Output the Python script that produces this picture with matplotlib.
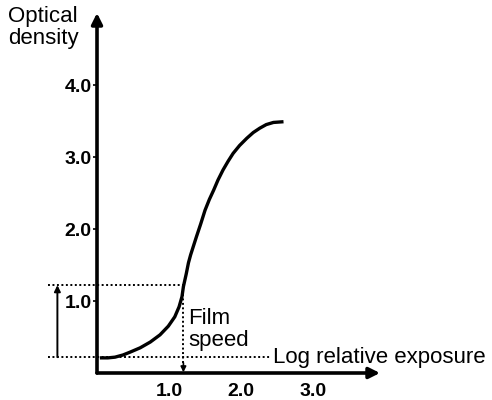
import matplotlib.pyplot as plt
from matplotlib.ticker import FormatStrFormatter

plt.rcParams['font.family'] = ['Liberation Sans', 'DejaVu Sans']

# characteristic curve
log_exposure = [0.04, 0.15, 0.25, 0.36, 0.46, 0.60, 0.74, 0.875, 0.99, 1.08,
                1.14, 1.18, 1.20, 1.24, 1.27, 1.30, 1.38, 1.44, 1.50, 1.56,
                1.62, 1.68, 1.75, 1.82, 1.89, 1.98, 2.08, 2.17, 2.26, 2.35,
                2.45, 2.59]
density = [0.21, 0.21, 0.22, 0.25, 0.29, 0.35, 0.43, 0.53, 0.65, 0.78,
           0.92, 1.06, 1.20, 1.38, 1.53, 1.64, 1.89, 2.07, 2.26, 2.41,
           2.54, 2.68, 2.82, 2.94, 3.05, 3.16, 3.26, 3.34, 3.40, 3.45,
           3.48, 3.49]

x_ticks = [1.0, 2.0, 3.0]
y_ticks = [1.0, 2.0, 3.0, 4.0]

fog_level = 0.22
speed_density = 1.22
speed_exposure = 1.2

fig = plt.figure(figsize=(4.92, 4.0), dpi=100)
ax = fig.add_axes([97 / 492, 27 / 400, 283 / 492, 360 / 400])
ax.set_xlim(0, 3.93)
ax.set_ylim(0, 5.0)
for s in ax.spines.values():
    s.set_visible(False)

# axes with arrow heads
arrow_kw = dict(arrowstyle='-|>', lw=2.6, color='black', mutation_scale=16,
                shrinkA=0, shrinkB=0)
ax.annotate('', xy=(0, 5.0), xytext=(0, 0), arrowprops=arrow_kw, annotation_clip=False)
ax.annotate('', xy=(3.93, 0), xytext=(0, 0), arrowprops=arrow_kw, annotation_clip=False)

ax.set_xticks(x_ticks)
ax.set_yticks(y_ticks)
ax.xaxis.set_major_formatter(FormatStrFormatter('%.1f'))
ax.yaxis.set_major_formatter(FormatStrFormatter('%.1f'))
ax.tick_params(axis='x', length=0, pad=7, labelsize=14)
ax.tick_params(axis='y', direction='out', length=3, width=1.2, pad=1, labelsize=14)
for lab in ax.get_xticklabels() + ax.get_yticklabels():
    lab.set_fontweight('bold')

ax.plot(log_exposure, density, color='black', lw=2.4, solid_joinstyle='round',
        solid_capstyle='butt', clip_on=False)

dot = (0, (1.0, 1.3))
ax.plot([-0.68, speed_exposure], [speed_density, speed_density], color='black',
        lw=1.4, linestyle=dot, clip_on=False)
ax.plot([-0.68, 2.40], [fog_level, fog_level], color='black',
        lw=1.4, linestyle=dot, clip_on=False)
ax.plot([speed_exposure, speed_exposure], [speed_density, 0.12], color='black',
        lw=1.4, linestyle=dot, clip_on=False)
ax.annotate('', xy=(speed_exposure, 0.01), xytext=(speed_exposure, 0.14),
            arrowprops=dict(arrowstyle='-|>', lw=1.2, color='black', mutation_scale=8,
                            shrinkA=0, shrinkB=0), annotation_clip=False)

# density range arrow
ax.annotate('', xy=(-0.55, speed_density), xytext=(-0.55, fog_level),
            arrowprops=dict(arrowstyle='-|>', lw=1.4, color='black', mutation_scale=9,
                            shrinkA=0, shrinkB=0), annotation_clip=False)

ax.text(1.27, 0.60, 'Film\nspeed', fontsize=16, ha='left', va='center',
        linespacing=1.05)
ax.text(2.45, fog_level, 'Log relative exposure', fontsize=16, ha='left', va='center',
        clip_on=False)
ax.text(-1.23, 5.1, 'Optical\ndensity', fontsize=16, ha='left', va='top',
        linespacing=1.05, clip_on=False)

fig.savefig('out.png', dpi=100)
